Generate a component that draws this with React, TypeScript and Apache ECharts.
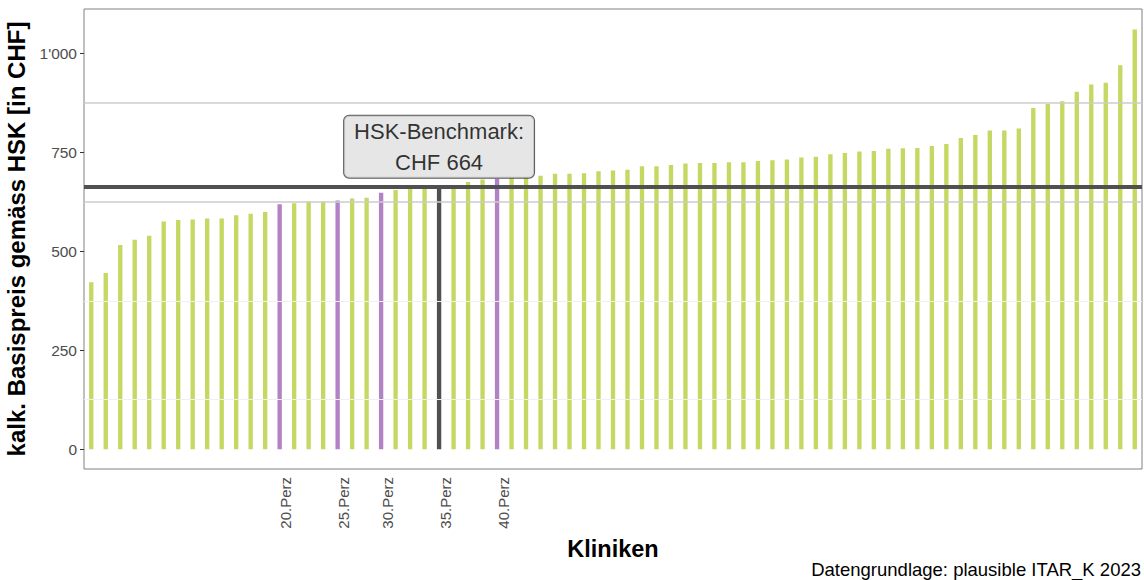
import React, { useEffect, useRef } from "react";
import * as echarts from "echarts";

// kalk. Basispreis gemäss HSK je Klinik (sortiert), inkl. Benchmark-Balken
const values = [
  422, 445, 516, 529, 539, 575, 579, 580, 583, 583,
  591, 595, 599, 619, 621, 626, 626, 628, 633, 635,
  648, 655, 661, 662, 664, 666, 675, 681, 683, 686,
  687, 691, 696, 696, 697, 702, 704, 706, 715, 715,
  718, 722, 723, 723, 725, 725, 728, 730, 732, 737,
  739, 745, 748, 752, 753, 759, 760, 761, 766, 771,
  786, 794, 805, 805, 810, 862, 872, 879, 903, 921,
  926, 970, 1060,
];
const percentileIndex = [13, 17, 20, 24, 28];
const percentileLabels = ["20.Perz", "25.Perz", "30.Perz", "35.Perz", "40.Perz"];
const benchmarkIndex = 24;
const benchmarkValue = 664;
const benchmarkLabelY = 764;
const yTicks = [0, 250, 500, 750, 1000];
const yRange = [-50, 1112];
const greyGridValues = [625, 875];
const lightGridValues = [125, 375];

const categories = values.map((_, i) => `Klinik ${i + 1}`);

const GREEN = "#c4d862";
const PURPLE = "#b282c4";
const DARK = "#505050";
const FONT = "'Liberation Sans', Arial, Helvetica, sans-serif";

function fmtThousands(v: number): string {
  return String(v).replace(/\B(?=(\d{3})+(?!\d))/g, "'");
}

export default function App() {
  const ref = useRef<HTMLDivElement>(null);
  useEffect(() => {
    if (!ref.current) return;
    const chart = echarts.init(ref.current, null, { renderer: "svg" });
    const barData = values.map((v, i) => ({
      value: v,
      itemStyle: {
        color:
          i === benchmarkIndex ? DARK : percentileIndex.includes(i) ? PURPLE : GREEN,
      },
    }));
    chart.setOption({
      animation: false,
      backgroundColor: "#ffffff",
      textStyle: { fontFamily: FONT },
      title: {
        text: "Datengrundlage: plausible ITAR_K 2023",
        right: 3,
        bottom: 1,
        padding: 0,
        textStyle: { fontSize: 18.5, fontWeight: "normal", color: "#000", fontFamily: FONT },
      },
      grid: {
        left: 84,
        right: 2,
        top: 9,
        bottom: 111,
        outerBoundsMode: "none",
        containLabel: false,
        show: true,
        borderColor: "#808080",
        borderWidth: 1,
        backgroundColor: "transparent",
      },
      xAxis: {
        type: "category",
        data: categories,
        boundaryGap: true,
        axisLine: { show: false },
        axisTick: { show: false },
        splitLine: { show: false },
        axisLabel: {
          interval: 0,
          rotate: 90,
          fontSize: 15,
          color: "#4d4d4d",
          margin: 8,
          verticalAlign: "top",
          lineHeight: 12,
          formatter: (_v: string, i: number) => {
            const k = percentileIndex.indexOf(i);
            return k >= 0 ? percentileLabels[k] : "";
          },
        },
        name: "Kliniken",
        nameLocation: "middle",
        nameGap: 61,
        nameTextStyle: { fontSize: 23.5, fontWeight: "bold", color: "#000", fontFamily: FONT },
      },
      yAxis: {
        type: "value",
        min: yRange[0],
        max: yRange[1],
        axisLine: { show: false },
        splitLine: { show: false },
        axisTick: {
          show: true,
          customValues: yTicks,
          length: 4,
          lineStyle: { color: "#333" },
        },
        axisLabel: {
          customValues: yTicks,
          fontSize: 15.5,
          color: "#4d4d4d",
          margin: 7,
          formatter: (v: number) => fmtThousands(v),
        },
        name: "kalk. Basispreis gemäss HSK [in CHF]",
        nameLocation: "middle",
        nameGap: 36,
        nameTextStyle: { fontSize: 24, fontWeight: "bold", color: "#000", fontFamily: FONT },
      },
      series: [
        {
          type: "line",
          data: [],
          z: 1,
          markLine: {
            silent: true,
            symbol: "none",
            label: { show: false },
            lineStyle: { color: "#cccccc", width: 1.5, type: "solid" },
            data: greyGridValues.map((v) => ({ yAxis: v })),
          },
        },
        {
          type: "bar",
          data: barData,
          barWidth: "30%",
          z: 2,
        },
        {
          type: "line",
          data: [],
          z: 4,
          markLine: {
            silent: true,
            symbol: "none",
            label: { show: false },
            data: [
              ...lightGridValues.map((v) => ({
                yAxis: v,
                lineStyle: { color: "#f0f0f0", width: 1.2, type: "solid" },
              })),
              {
                yAxis: benchmarkValue,
                lineStyle: { color: DARK, width: 4, type: "solid" },
              },
            ],
          },
        },
        {
          type: "scatter",
          z: 10,
          symbolSize: 0.1,
          itemStyle: { color: "transparent" },
          data: [[benchmarkIndex, benchmarkLabelY]],
          label: {
            show: true,
            position: "inside",
            formatter: `HSK-Benchmark:\nCHF ${benchmarkValue}`,
            fontSize: 22,
            lineHeight: 31,
            color: "#000",
            fontFamily: FONT,
            align: "center",
            verticalAlign: "middle",
            backgroundColor: "#e0e0e0",
            borderColor: "#333",
            borderWidth: 1,
            borderRadius: 5,
            padding: [0, 10],
          },
        },
      ],
    });
    return () => chart.dispose();
  }, []);
  return (
    <div
      ref={ref}
      style={{ position: "absolute", left: 0, top: 0, width: 1144, height: 580 }}
    />
  );
}
